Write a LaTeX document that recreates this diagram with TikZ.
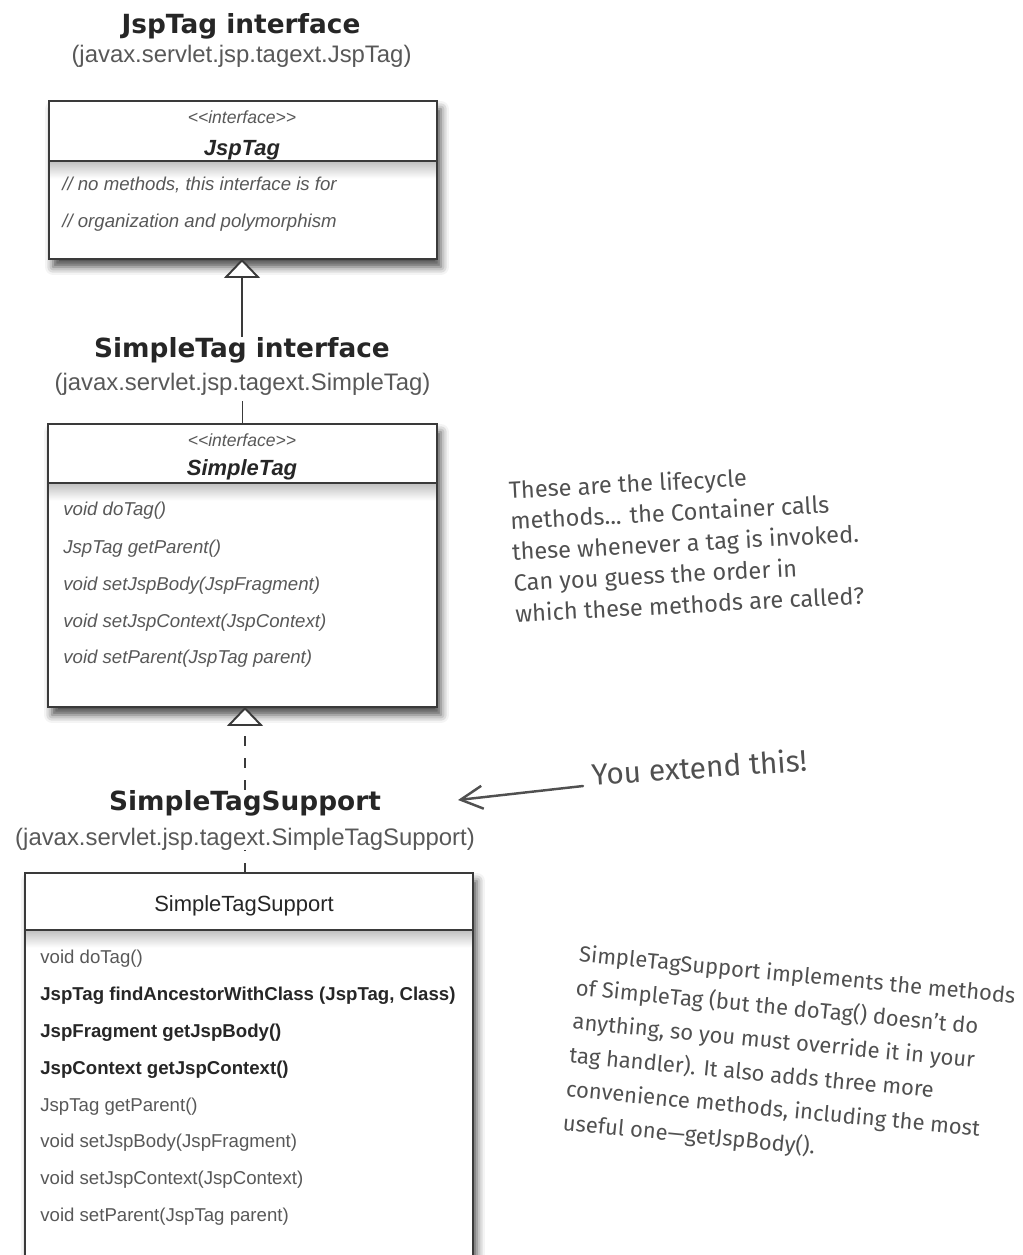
\documentclass[tikz,border=0pt]{standalone}
\usepackage{fontspec}
\setmainfont{Liberation Sans}
\newfontfamily\titlefont{DejaVu Sans}
\newfontfamily\handfont{Fira Sans}
\usepackage{tikz}
\usetikzlibrary{positioning, arrows.meta, shadows.blur}
\usepackage{xcolor}
\definecolor{inkdark}{HTML}{262626}
\definecolor{inkgray}{HTML}{585858}
\definecolor{boxline}{HTML}{3A3A3A}
\definecolor{handgray}{HTML}{505050}
\newcommand{\stereotext}{<\kern0pt<interface>\kern0pt>}

\begin{document}
\begin{tikzpicture}[x=0.02cm, y=-0.02cm,
    title/.style={font=\titlefont\bfseries\fontsize{15}{18}\selectfont, text=inkdark, inner sep=0, anchor=base},
    pkg/.style={font=\fontsize{13.6}{16}\selectfont, text=inkgray, inner sep=0, anchor=base},
    umlbox/.style={draw=boxline, line width=1.1pt, fill=white, outer sep=0,
                   blur shadow={shadow xshift=0.8mm, shadow yshift=-1.6mm, shadow blur radius=1.6mm, shadow opacity=70}},
    sepline/.style={draw=boxline, line width=1.1pt},
    stereo/.style={font=\itshape\fontsize{10}{12}\selectfont, text=inkgray, inner sep=0, anchor=base},
    cname/.style={font=\bfseries\itshape\fontsize{12.5}{15}\selectfont, text=inkdark, inner sep=0, anchor=base},
    meth/.style={font=\fontsize{10.6}{12}\selectfont, text=inkgray, inner sep=0, anchor=base west},
    methit/.style={meth, font=\itshape\fontsize{10.6}{12}\selectfont},
    methbf/.style={meth, font=\bfseries\fontsize{10.6}{12}\selectfont, text=inkdark},
    handnote/.style={font=\handfont\fontsize{13.4}{17.6}\selectfont, text=handgray, align=left, inner sep=0},
    inherit/.style={-{Triangle[length=0.38cm, width=0.72cm, fill=white]}, draw=boxline, line width=1.1pt},
    extarrow/.style={-{Straight Barb[length=0.44cm, width=0.46cm]}, draw=handgray, line width=1.4pt, line cap=round}]

  \clip (0,0) rectangle (1022,1255);

  % JspTag interface
  \node[title] (jsptitle) at (241,33) {JspTag interface};
  \node[pkg] (jsppkg) at (241.5,62) {(javax.servlet.jsp.tagext.JspTag)};
  \node[umlbox, minimum width=7.76cm, minimum height=3.16cm] (jspbox) at (243,180) {};
  \shade[top color=black!25, bottom color=white]
        ([xshift=0.02cm, yshift=-1.2cm]jspbox.north west) rectangle ([xshift=-0.02cm, yshift=-1.55cm]jspbox.north east);
  \draw[sepline] ([yshift=-1.2cm]jspbox.north west) -- ([yshift=-1.2cm]jspbox.north east);
  \node[stereo] (jspstereo) at (242,123) {\stereotext};
  \node[cname] (jspname) at (242,155) {JspTag};
  \node[methit] (jspnote1) at (62,190) {// no methods, this interface is for};
  \node[methit] (jspnote2) at (62,227) {// organization and polymorphism};

  % SimpleTag interface
  \node[title] (sttitle) at (242,357) {SimpleTag interface};
  \node[pkg] (stpkg) at (242.5,390) {(javax.servlet.jsp.tagext.SimpleTag)};
  \node[umlbox, minimum width=7.78cm, minimum height=5.66cm] (stbox) at (242.5,565.5) {};
  \shade[top color=black!25, bottom color=white]
        ([xshift=0.02cm, yshift=-1.18cm]stbox.north west) rectangle ([xshift=-0.02cm, yshift=-1.53cm]stbox.north east);
  \draw[sepline] ([yshift=-1.18cm]stbox.north west) -- ([yshift=-1.18cm]stbox.north east);
  \node[stereo] (ststereo) at (242,446) {\stereotext};
  \node[cname] (stname) at (242,475) {SimpleTag};
  \node[methit] (stm1) at (63,515) {void doTag()};
  \node[methit] (stm2) at (63,553) {JspTag getParent()};
  \node[methit] (stm3) at (63,590) {void setJspBody(JspFragment)};
  \node[methit] (stm4) at (63,627) {void setJspContext(JspContext)};
  \node[methit] (stm5) at (63,663) {void setParent(JspTag parent)};

  % SimpleTagSupport class
  \node[title] (supptitle) at (245,810) {SimpleTagSupport};
  \node[pkg] (supppkg) at (245,845) {(javax.servlet.jsp.tagext.SimpleTagSupport)};
  \node[umlbox, minimum width=8.96cm, minimum height=8.54cm] (suppbox) at (249,1086.5) {};
  \shade[top color=black!25, bottom color=white]
        ([xshift=0.02cm, yshift=-1.14cm]suppbox.north west) rectangle ([xshift=-0.02cm, yshift=-1.49cm]suppbox.north east);
  \draw[sepline] ([yshift=-1.14cm]suppbox.north west) -- ([yshift=-1.14cm]suppbox.north east);
  \node[font=\fontsize{12.5}{15}\selectfont, text=inkdark, inner sep=0, anchor=base] (suppname) at (244,911) {SimpleTagSupport};
  \node[meth] (suppm1) at (40,963) {void doTag()};
  \node[methbf] (suppm2) at (40,1000) {JspTag findAncestorWithClass (JspTag, Class)};
  \node[methbf] (suppm3) at (40,1037) {JspFragment getJspBody()};
  \node[methbf] (suppm4) at (40,1074) {JspContext getJspContext()};
  \node[meth] (suppm5) at (40,1111) {JspTag getParent()};
  \node[meth] (suppm6) at (40,1147) {void setJspBody(JspFragment)};
  \node[meth] (suppm7) at (40,1184) {void setJspContext(JspContext)};
  \node[meth] (suppm8) at (40,1221) {void setParent(JspTag parent)};

  % Hierarchy connectors
  \draw[inherit] (sttitle.north) -- (sttitle.north |- jspbox.south);
  \draw[boxline, line width=1.1pt, shorten <=0.12cm] (stpkg.south) -- (stpkg.south |- stbox.north);
  \draw[inherit, dash pattern=on 0.2cm off 0.24cm] (supptitle.north) -- (supptitle.north |- stbox.south);
  \draw[boxline, line width=1.1pt, dash pattern=on 0.2cm off 0.24cm] (supppkg.south |- suppbox.north) -- (supppkg.south);

  % Handwritten notes
  \node[handnote, rotate=3, anchor=north west] (lifenote) at (508,480)
       {These are the lifecycle\\methods... the Container calls\\these whenever a tag is invoked.\\Can you guess the order in\\which these methods are called?};
  \node[handnote, font=\handfont\fontsize{17}{20}\selectfont, rotate=4, anchor=base west] (extnote) at (592,786) {You extend this!};
  \coordinate (extip) at (458,800);
  \draw[extarrow] ([xshift=-0.18cm]extnote.base west) -- (extip);
  \node[handnote, font=\handfont\fontsize{12.5}{19.3}\selectfont, rotate=-5.5, anchor=north west] (implnote) at (580,944)
       {SimpleTagSupport implements the methods\\of SimpleTag (but the doTag() doesn’t do\\anything, so you must override it in your\\tag handler). It also adds three more\\convenience methods, including the most\\useful one—getJspBody().};
\end{tikzpicture}
\end{document}
